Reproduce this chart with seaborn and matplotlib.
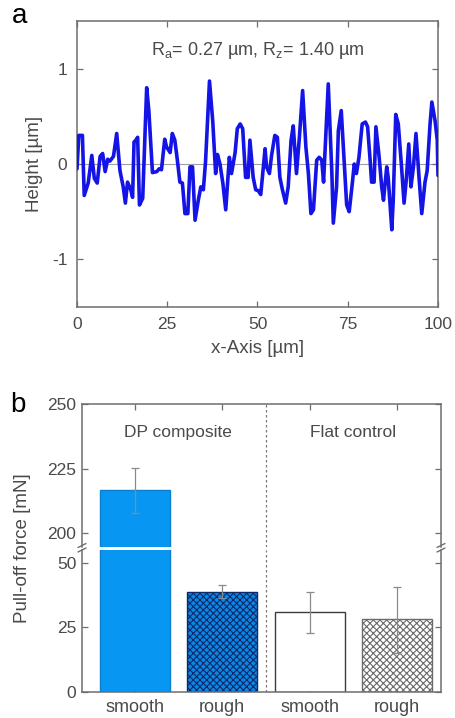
import numpy as np
import pandas as pd
import matplotlib
matplotlib.use("Agg")
import matplotlib.pyplot as plt
import seaborn as sns
from matplotlib.lines import Line2D

# ---------------- data: panel a (roughness profile) ----------------
x_um = [0.0, 0.5, 1.5, 2.0, 3.1, 4.1, 4.8, 5.6, 6.4, 7.1, 7.8, 8.5, 9.1, 10.1, 11.0,
        11.9, 12.8, 13.4, 14.0, 14.9, 15.4, 15.8, 16.3, 16.8, 17.3, 18.2, 19.3, 19.9,
        20.9, 22.1, 22.8, 23.4, 24.3, 24.8, 25.8, 26.4, 27.1, 27.8, 28.5, 29.2, 29.9,
        30.7, 31.3, 32.0, 32.7, 33.6, 34.3, 35.0, 35.6, 36.7, 37.6, 38.4, 38.9, 39.6,
        40.4, 41.2, 42.2, 42.8, 43.8, 44.4, 45.2, 45.9, 46.7, 47.4, 47.9, 48.8, 49.5,
        50.2, 50.9, 52.1, 52.5, 53.3, 53.9, 54.8, 55.5, 56.2, 56.9, 57.8, 58.5, 59.3,
        59.9, 60.8, 61.6, 62.5, 63.4, 64.1, 64.8, 65.5, 66.4, 67.1, 67.8, 68.3, 69.6,
        70.6, 71.0, 71.9, 72.4, 73.2, 74.1, 74.7, 75.4, 76.3, 76.8, 77.4, 78.1, 79.0,
        79.9, 80.5, 81.2, 81.6, 82.3, 82.8, 83.7, 84.4, 84.9, 85.8, 86.2, 87.2, 87.6,
        88.3, 89.0, 89.9, 90.6, 91.2, 91.9, 92.5, 93.2, 93.9, 94.8, 95.5, 96.4, 97.0,
        97.8, 98.3, 99.2, 99.8, 100.0]
height_um = [-0.05, 0.30, 0.30, -0.33, -0.20, 0.09, -0.15, -0.20, 0.08, 0.11, -0.08, 0.05,
             0.03, 0.08, 0.32, -0.07, -0.24, -0.41, -0.19, -0.27, -0.35, 0.23, 0.25, 0.28,
             -0.43, -0.36, 0.80, 0.56, -0.09, -0.08, -0.05, -0.06, 0.26, 0.18, 0.12, 0.32,
             0.25, 0.04, -0.19, -0.20, -0.52, -0.52, -0.03, -0.03, -0.59, -0.38, -0.24,
             -0.27, 0.02, 0.87, 0.45, -0.10, 0.10, 0.00, -0.20, -0.48, 0.07, -0.10, 0.12,
             0.37, 0.42, 0.37, -0.14, -0.14, 0.25, -0.14, -0.27, -0.28, -0.32, 0.16, -0.03,
             -0.10, 0.09, 0.30, 0.28, -0.14, -0.27, -0.41, -0.24, 0.25, 0.40, -0.10, 0.28,
             0.77, 0.18, -0.10, -0.52, -0.48, 0.04, 0.07, 0.04, -0.19, 0.84, -0.10, -0.62,
             -0.24, 0.35, 0.56, -0.03, -0.43, -0.50, -0.19, 0.00, -0.10, 0.07, 0.42, 0.44,
             0.39, 0.04, -0.19, -0.19, 0.39, 0.07, -0.24, -0.38, -0.03, -0.14, -0.69,
             -0.38, 0.52, 0.42, -0.03, -0.41, -0.17, 0.21, -0.24, -0.03, 0.32, -0.17,
             -0.52, -0.19, -0.07, 0.42, 0.65, 0.45, 0.25, -0.12]

# ---------------- data: panel b (pull-off force) ----------------
groups = ["DP smooth", "DP rough", "Flat smooth", "Flat rough"]
tick_labels = ["smooth", "rough", "smooth", "rough"]
force_mN = [216.5, 38.9, 30.9, 28.2]
err_lo = [8.8, 2.6, 7.9, 13.1]
err_hi = [8.7, 2.6, 8.0, 12.6]
group_titles = ["DP composite", "Flat control"]
bar_colors = ["#0796f2", "#0b86e6", "#ffffff", "#ffffff"]
bar_edges = ["#0a7fd0", "#0b2a66", "#3c3c3c", "#6a6a6a"]
bar_hatches = [None, "xxxxx", None, "xxxxx"]

# ---------------- style ----------------
sns.set_theme(style="white")
plt.rcParams["font.family"] = ["Liberation Sans", "DejaVu Sans"]
plt.rcParams["mathtext.fontset"] = "custom"
plt.rcParams["mathtext.rm"] = "Liberation Sans"
plt.rcParams["mathtext.it"] = "Liberation Sans"
plt.rcParams["hatch.linewidth"] = 0.8
plt.rcParams["axes.unicode_minus"] = False
TXT = "#4a4a4a"
SPINE = "#6e6e6e"

W, H = 456, 718
fig = plt.figure(figsize=(W / 100, H / 100), dpi=100)
fig.patch.set_facecolor("white")


def axes_px(l, t, r, b):
    return fig.add_axes([l / W, 1 - b / H, (r - l) / W, (b - t) / H])


def style_ax(ax, labelsize):
    for s in ax.spines.values():
        s.set_color(SPINE)
        s.set_linewidth(1.1)
    ax.tick_params(direction="in", length=4, width=0.9, colors=SPINE,
                   labelcolor=TXT, labelsize=labelsize,
                   top=True, right=True, bottom=True, left=True)


# ---------------- panel a ----------------
ax1 = axes_px(77, 21, 438, 307)
ax1.axhline(0, color="#a0a0a0", lw=0.8, zorder=0)
sns.lineplot(x=x_um, y=height_um, ax=ax1, color="#1414e6", lw=2.6, zorder=3)
ax1.set_xlim(0, 100)
ax1.set_ylim(-1.5, 1.5)
ax1.set_xticks([0, 25, 50, 75, 100])
ax1.set_yticks([-1, 0, 1])
style_ax(ax1, 12.5)
ax1.tick_params(axis="x", pad=7)
ax1.tick_params(axis="y", pad=7)
ax1.set_xlabel("x-Axis [µm]", fontsize=13.5, color=TXT, labelpad=6)
ax1.set_ylabel("Height [µm]", fontsize=13.5, color=TXT, labelpad=6)
ax1.text(50, 1.19, r"R$_{\rm a}$= 0.27 µm, R$_{\rm z}$= 1.40 µm",
         ha="center", va="center", fontsize=13, color=TXT)

# ---------------- panel b (broken axis) ----------------
axU = axes_px(82, 404, 441, 547)
axL = axes_px(82, 550, 441, 692)
df = pd.DataFrame({"group": groups, "force": force_mN})

for ax in (axU, axL):
    sns.barplot(data=df, x="group", y="force", hue="group", order=groups,
                hue_order=groups, palette=bar_colors, legend=False, ax=ax,
                width=0.8, errorbar=None, linewidth=1.0, saturation=1)
    for p, ec, ht in zip(ax.patches, bar_edges, bar_hatches):
        p.set_edgecolor(ec)
        if ht:
            p.set_hatch(ht)
    ax.errorbar(range(len(groups)), force_mN, yerr=[err_lo, err_hi], fmt="none",
                ecolor="#8a8a8a", elinewidth=0.9, capsize=3, capthick=0.9, zorder=5)
    ax.axvline(1.5, color="#7a7a7a", lw=0.9, ls=(0, (2, 2)))
    ax.set_xlim(-0.6, 3.5)
    ax.set_xlabel("")
    ax.set_ylabel("")
    style_ax(ax, 12.5)
    ax.tick_params(axis="y", pad=4)

axU.set_ylim(194.6, 250)
axU.set_yticks([200, 225, 250])
axU.spines["bottom"].set_visible(False)
axU.tick_params(axis="x", bottom=False, labelbottom=False, top=True)
axL.set_ylim(0, 55.0)
axL.set_yticks([0, 25, 50])
axL.spines["top"].set_visible(False)
axL.set_xticks(range(len(groups)))
axL.set_xticklabels(tick_labels)
axL.tick_params(axis="x", top=False, pad=5, labelsize=13)

for xc, t in zip([0.5, 2.5], group_titles):
    axU.text(xc, 239, t, ha="center", va="center", fontsize=12.5, color=TXT)

# break marks
for xp in (82, 441):
    for yp in (545.5, 550.0):
        fig.add_artist(Line2D([(xp - 4) / W, (xp + 4) / W],
                              [1 - (yp + 2) / H, 1 - (yp - 2) / H],
                              color=SPINE, lw=1.0))

fig.text(23 / W, 1 - 548 / H, "Pull-off force [mN]", rotation=90,
         ha="center", va="center", fontsize=13.5, color=TXT)

# panel letters
fig.text(12 / W, 1 - 23 / H, "a", fontsize=20, color="black", va="baseline")
fig.text(10 / W, 1 - 412 / H, "b", fontsize=20, color="black", va="baseline")

fig.savefig("out.png", dpi=100, facecolor="white")
